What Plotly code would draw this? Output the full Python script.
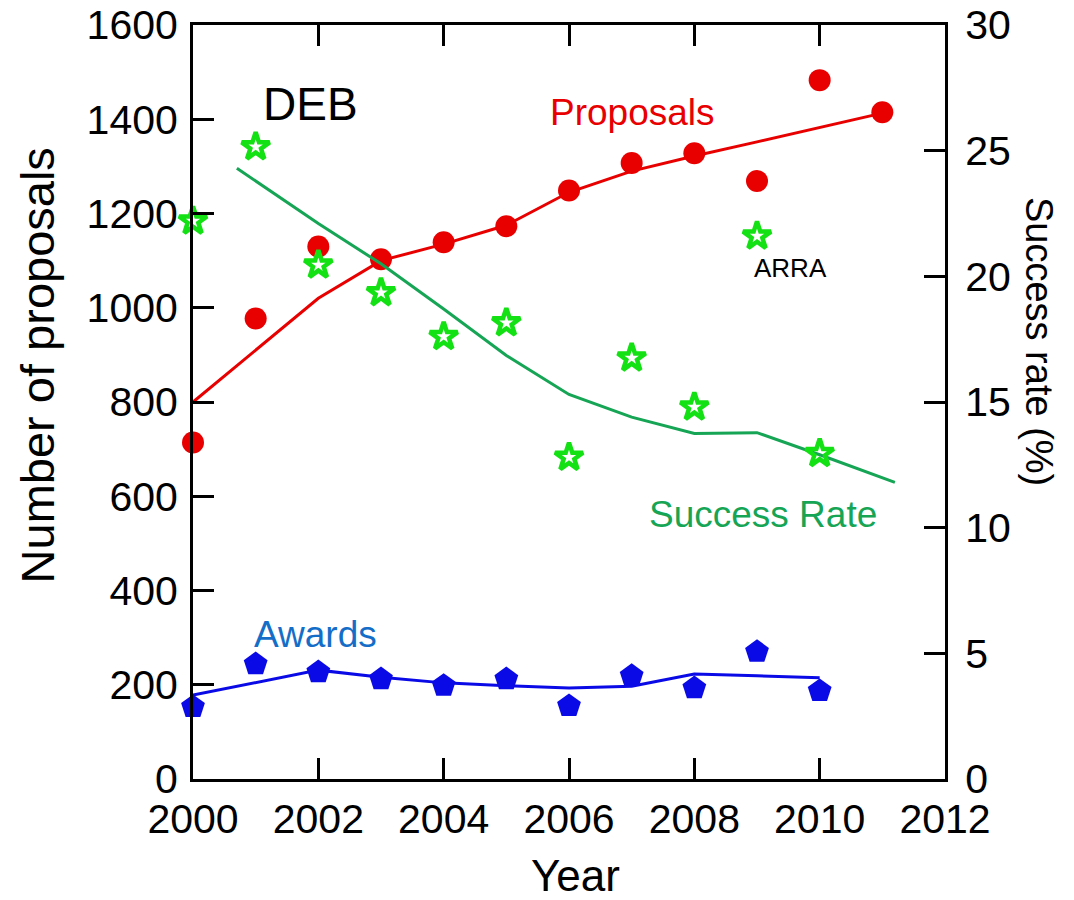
import plotly.graph_objects as go

# ---- data ----
years = [2000, 2001, 2002, 2003, 2004, 2005, 2006, 2007, 2008, 2009, 2010, 2011]
proposals = [714, 977, 1130, 1103, 1139, 1173, 1249, 1307, 1328, 1269, 1483, 1415]
proposals_trend = [800, 910, 1020, 1100, 1135, 1175, 1245, 1290, 1322, 1352, 1383, 1413]

award_years = [2000, 2001, 2002, 2003, 2004, 2005, 2006, 2007, 2008, 2009, 2010]
awards = [153, 244, 227, 212, 198, 212, 155, 219, 193, 270, 187]
awards_trend = [178, 205, 231, 216, 204, 198, 193, 197, 223, 219, 215]

rate_years = [2000, 2001, 2002, 2003, 2004, 2005, 2006, 2007, 2008, 2009, 2010]
success_rate = [22.2, 25.15, 20.45, 19.35, 17.6, 18.15, 12.8, 16.75, 14.8, 21.6, 12.95]
rate_trend_years = [2000.7, 2002, 2003, 2004, 2005, 2006, 2007, 2008, 2009, 2010, 2011.2]
rate_trend = [24.3, 22.1, 20.5, 18.7, 16.85, 15.3, 14.4, 13.75, 13.78, 12.9, 11.8]

x_ticks = [2000, 2002, 2004, 2006, 2008, 2010, 2012]
y_ticks = [0, 200, 400, 600, 800, 1000, 1200, 1400, 1600]
y2_ticks = [0, 5, 10, 15, 20, 25, 30]

FONT = "Arial, Liberation Sans, sans-serif"
RED = "rgb(232,0,0)"
GREEN_LINE = "rgb(22,165,85)"
GREEN_STAR = "rgb(20,225,20)"
BLUE = "rgb(10,10,230)"

fig = go.Figure()

fig.add_trace(go.Scatter(x=years, y=proposals_trend, mode="lines",
                         line=dict(color=RED, width=3), hoverinfo="skip"))
fig.add_trace(go.Scatter(x=years, y=proposals, mode="markers", cliponaxis=False,
                         marker=dict(symbol="circle", size=22, color=RED)))
fig.add_trace(go.Scatter(x=award_years, y=awards_trend, mode="lines",
                         line=dict(color=BLUE, width=3), hoverinfo="skip"))
fig.add_trace(go.Scatter(x=award_years, y=awards, mode="markers", cliponaxis=False,
                         marker=dict(symbol="pentagon", size=25, color=BLUE)))
fig.add_trace(go.Scatter(x=rate_trend_years, y=rate_trend, mode="lines", yaxis="y2",
                         line=dict(color=GREEN_LINE, width=3), hoverinfo="skip"))
fig.add_trace(go.Scatter(x=rate_years, y=success_rate, mode="markers", yaxis="y2",
                         cliponaxis=False,
                         marker=dict(symbol="star-open", size=21, color=GREEN_STAR,
                                     line=dict(color=GREEN_STAR, width=4.5))))

axis_common = dict(showline=True, linecolor="black", linewidth=3, ticks="inside",
                   ticklen=21, tickwidth=3, tickcolor="black", showgrid=False,
                   zeroline=False, automargin=False, ticklabeloverflow="allow",
                   tickfont=dict(family=FONT, size=41, color="black"))

# the page body adds an 8px offset, so margins are reduced on the left/top
fig.update_layout(
    width=1074, height=900,
    margin=dict(l=185, r=137, t=17, b=129),
    paper_bgcolor="white", plot_bgcolor="white",
    showlegend=False,
    font=dict(family=FONT, color="black"),
    xaxis=dict(range=[2000, 2012], tickvals=x_ticks, mirror="ticks",
               ticklabelstandoff=2, **axis_common),
    yaxis=dict(range=[0, 1600], tickvals=y_ticks, ticklabelstandoff=4, **axis_common),
    yaxis2=dict(range=[0, 30], tickvals=y2_ticks, overlaying="y", side="right",
                anchor="x", ticklabelstandoff=9, **axis_common),
    annotations=[
        dict(text="Year", xref="paper", yref="paper", x=0.508, y=-0.128,
             showarrow=False, font=dict(size=44, family=FONT, color="black"),
             xanchor="center", yanchor="middle"),
        dict(text="Number of proposals", xref="paper", yref="paper", x=-0.207, y=0.549,
             textangle=-90, showarrow=False, font=dict(size=47, family=FONT, color="black"),
             xanchor="center", yanchor="middle"),
        dict(text="Success rate (%)", xref="paper", yref="paper", x=1.126, y=0.58,
             textangle=90, showarrow=False, font=dict(size=38, family=FONT, color="black"),
             xanchor="center", yanchor="middle"),
        dict(text="DEB", x=2001.87, y=1432, showarrow=False,
             font=dict(size=46, family=FONT, color="black")),
        dict(text="Proposals", x=2007.02, y=1415, showarrow=False,
             font=dict(size=37, family=FONT, color=RED)),
        dict(text="Success Rate", x=2009.1, y=561, showarrow=False,
             font=dict(size=37, family=FONT, color=GREEN_LINE)),
        dict(text="Awards", x=2001.96, y=306, showarrow=False,
             font=dict(size=37, family=FONT, color="rgb(20,110,200)")),
        dict(text="ARRA", x=2009.53, y=1084, showarrow=False,
             font=dict(size=26, family=FONT, color="black")),
    ],
)

fig.write_html("out.html")
